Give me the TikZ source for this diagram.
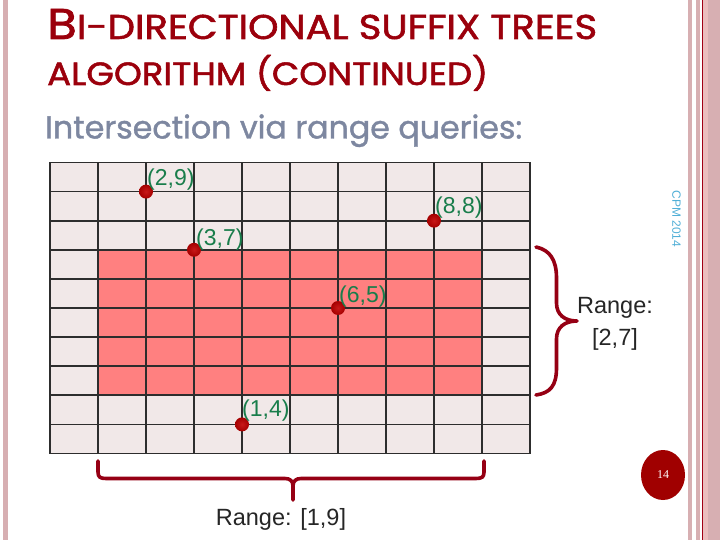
\documentclass[tikz,border=0pt]{standalone}
\usepackage{fontspec}
\setmainfont{Liberation Sans}
\newfontfamily\comict[FakeBold=1.6]{Poppins}
\newfontfamily\comics[FakeBold=1.2]{Poppins}
\newfontfamily\serf{Liberation Serif}
\usetikzlibrary{shapes.geometric}
\definecolor{titlered}{RGB}{155,0,12}
\definecolor{subgray}{RGB}{125,135,160}
\definecolor{cellgray}{RGB}{241,232,232}
\definecolor{cellred}{RGB}{255,128,128}
\definecolor{gridc}{RGB}{45,45,45}
\definecolor{dotred}{RGB}{165,0,0}
\definecolor{dotredin}{RGB}{200,25,25}
\definecolor{labgreen}{RGB}{25,125,75}
\definecolor{bracered}{RGB}{150,0,20}
\definecolor{pagered}{RGB}{160,0,0}
\definecolor{cpmblue}{RGB}{80,175,215}
\definecolor{bordpink}{RGB}{215,175,178}
\definecolor{bordlight}{RGB}{235,190,190}
\definecolor{borddark}{RGB}{160,0,20}
\tikzset{
  dotnode/.style={circle, minimum size=14pt, inner sep=0pt, draw=none,
    inner color=dotredin, outer color=dotred},
  lab/.style={anchor=base west, inner sep=0pt, text=labgreen,
    font=\fontsize{23}{23}\selectfont},
  rangetxt/.style={anchor=base, inner sep=0pt, text=black!85,
    font=\fontsize{23.5}{23.5}\selectfont},
  bracestyle/.style={draw=bracered, line width=3.6pt, line cap=round, line join=round},
  gridline/.style={draw=gridc, line width=1.8pt, line cap=rect}
}
\begin{document}
\begin{tikzpicture}[x=1pt,y=-1pt]
\useasboundingbox (0,0) rectangle (720,540);
\fill[white] (0,0) rectangle (720,540);
% borders
\fill[bordpink] (3.3,0) rectangle (8.3,540);
\fill[bordpink] (688.3,0) rectangle (691.7,540);
\fill[bordpink] (696,0) rectangle (700,540);
\fill[borddark] (701.7,0) rectangle (703.3,540);
\fill[bordlight] (703.3,0) rectangle (708.3,540);
\fill[bordpink] (708.3,0) rectangle (720,540);
% title
\node[anchor=base west, inner sep=0pt, text=titlered] (t1) at (47,39)
  {\resizebox{550pt}{30pt}{\comict\fontsize{30}{30}\selectfont B\fontsize{24}{24}\selectfont I-DIRECTIONAL SUFFIX TREES}};
\node[anchor=base west, inner sep=0pt, text=titlered] (t2) at (47,85)
  {\resizebox{441pt}{30pt}{\comict\fontsize{24}{24}\selectfont ALGORITHM (CONTINUED)}};
\node[anchor=base west, inner sep=0pt, text=subgray] (sub) at (45,138.5)
  {\resizebox{477pt}{!}{\comics\fontsize{28}{28}\selectfont Intersection via range queries:}};
% grid
\begin{scope}[shift={(50pt,-453.5pt)}, x=48pt, y=29.1pt]
  \fill[cellgray] (0,0) rectangle (10,10);
  \fill[cellred] (1,2) rectangle (9,7);
  \foreach \i in {0,...,10} {
    \draw[gridline] (\i,0) -- (\i,10);
    \draw[gridline] (0,\i) -- (10,\i);
  }
  \node[dotnode] (p29) at (2,9) {};
  \node[dotnode] (p88) at (8,8) {};
  \node[dotnode] (p37) at (3,7) {};
  \node[dotnode] (p65) at (6,5) {};
  \node[dotnode] (p14) at (4,1) {};
\end{scope}
\node[lab] (l29) at ([shift={(1pt,6.5pt)}]p29.center) {(2,9)};
\node[lab] (l88) at ([shift={(1pt,7pt)}]p88.center) {(8,8)};
\node[lab] (l37) at ([shift={(2pt,4pt)}]p37.center) {(3,7)};
\node[lab] (l65) at ([shift={(1pt,6pt)}]p65.center) {(6,5)};
\node[lab] (l14) at ([shift={(0pt,8pt)}]p14.center) {(1,4)};
% right brace
\draw[bracestyle] (536,247) .. controls (550,250) and (556.5,260) .. (556.5,278)
  -- (556.5,303) .. controls (556.5,315) and (565,321) .. (577,321)
  .. controls (565,321) and (556.5,327) .. (556.5,339)
  -- (556.5,368) .. controls (556.5,386) and (550,393) .. (536,395);
\node[rangetxt] (r27a) at (615,313) {Range:};
\node[rangetxt] (r27b) at (615,345) {[2,7]};
% bottom brace
\draw[bracestyle] (98,461) -- (98,472) .. controls (98,477) and (100,478.5) .. (106,478.5)
  -- (285,478.5) .. controls (290,478.5) and (293,481) .. (293,486) -- (293,500);
\draw[bracestyle] (293,486) .. controls (293,481) and (296,478.5) .. (301,478.5)
  -- (476,478.5) .. controls (482,478.5) and (484,477) .. (484,472) -- (484,461);
\node[rangetxt] (r19) at (281,525) {Range: [1,9]};
% side text and page number
\node[rotate=-90, inner sep=0pt, text=cpmblue, font=\fontsize{12}{12}\selectfont] (cpm) at (676.5,219) {CPM 2014};
\node[ellipse, fill=pagered, minimum width=44pt, minimum height=50pt, inner sep=0pt,
  text=white, font=\serf\fontsize{12}{12}\selectfont] (pg) at (663,475) {14};
\end{tikzpicture}
\end{document}
